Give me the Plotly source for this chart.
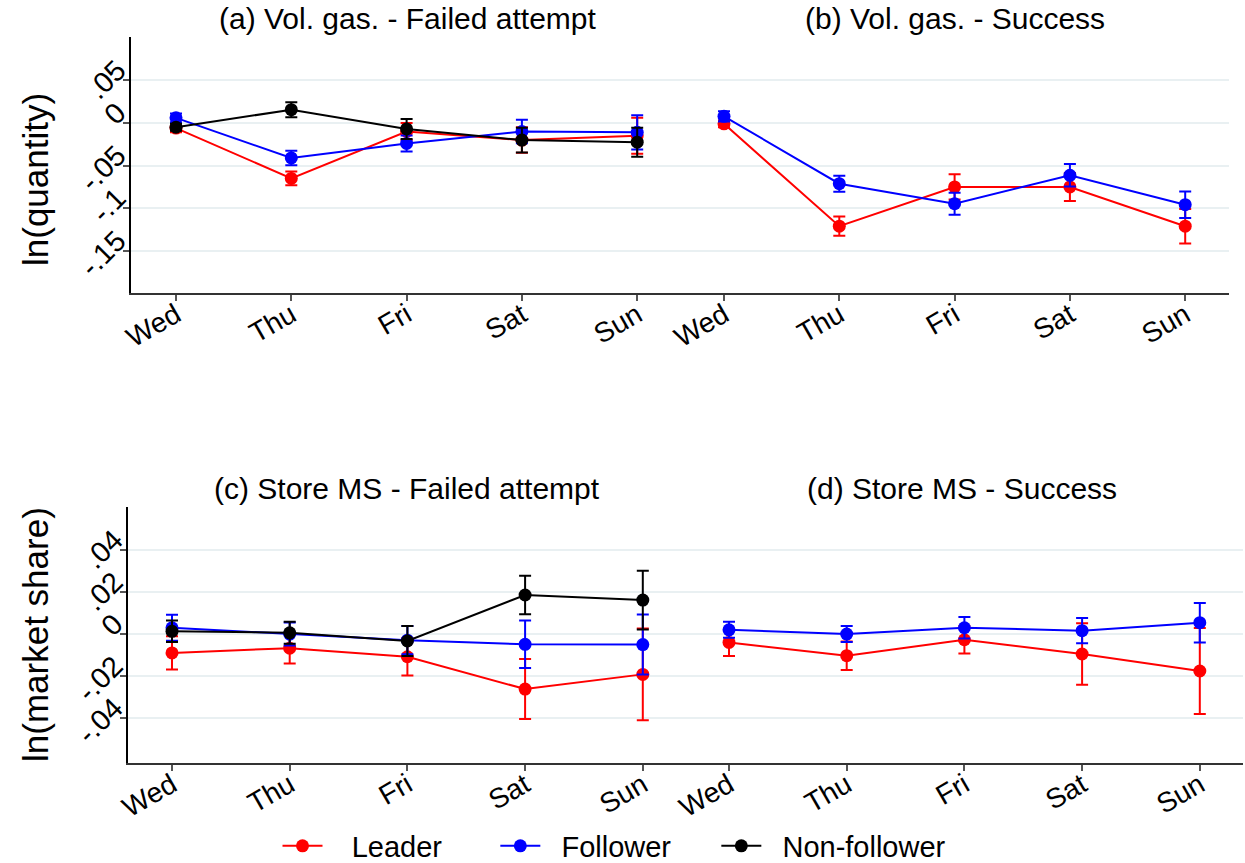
import plotly.graph_objects as go

W, H = 1245, 863

days = ["Wed", "Thu", "Fri", "Sat", "Sun"]
x_pos = [0, 1, 2, 3, 4]

# Panel (a) Vol. gas. - Failed attempt
a_leader = [-0.006, -0.065, -0.010, -0.020, -0.015]
a_leader_err = [0.005, 0.008, 0.010, 0.015, 0.021]
a_follower = [0.006, -0.041, -0.024, -0.010, -0.011]
a_follower_err = [0.005, 0.0086, 0.0094, 0.0137, 0.020]
a_nonfollower = [-0.005, 0.0156, -0.007, -0.020, -0.0225]
a_nonfollower_err = [0.004, 0.0088, 0.0117, 0.0145, 0.017]

# Panel (b) Vol. gas. - Success
b_leader = [-0.001, -0.121, -0.075, -0.075, -0.121]
b_leader_err = [0.004, 0.0113, 0.0148, 0.0164, 0.0203]
b_follower = [0.0078, -0.0712, -0.0946, -0.0613, -0.0958]
b_follower_err = [0.006, 0.0094, 0.0129, 0.0133, 0.0156]

# Panel (c) Store MS - Failed attempt
c_leader = [-0.009, -0.0067, -0.0108, -0.0262, -0.0192]
c_leader_err = [0.0079, 0.0073, 0.0089, 0.0143, 0.0219]
c_follower = [0.003, 0.0, -0.0029, -0.0049, -0.005]
c_follower_err = [0.0062, 0.0055, 0.0067, 0.0113, 0.0143]
c_nonfollower = [0.0013, 0.0006, -0.0033, 0.0186, 0.0162]
c_nonfollower_err = [0.0051, 0.0052, 0.0071, 0.0092, 0.014]

# Panel (d) Store MS - Success
d_leader = [-0.004, -0.0103, -0.0027, -0.0095, -0.0176]
d_leader_err = [0.0065, 0.0068, 0.0065, 0.0146, 0.0205]
d_follower = [0.002, 0.0, 0.003, 0.0016, 0.0054]
d_follower_err = [0.0038, 0.0038, 0.0051, 0.006, 0.0094]

top_ticks = [0.05, 0.0, -0.05, -0.1, -0.15]
top_ticktext = [".05", "0", "-.05", "-.1", "-.15"]
bot_ticks = [0.04, 0.02, 0.0, -0.02, -0.04]
bot_ticktext = [".04", ".02", "0", "-.02", "-.04"]

titles = ["(a) Vol. gas. - Failed attempt", "(b) Vol. gas. - Success",
          "(c) Store MS - Failed attempt", "(d) Store MS - Success"]

series_names = ["Leader", "Follower", "Non-follower"]

RED, BLUE, BLACK = "#ff0000", "#0000ff", "#000000"
FONT = "Liberation Sans, Arial, sans-serif"
GRID = "#e9f0f2"
NB = "\u00a0"
legend_labels = {
    "Leader": NB * 3 + series_names[0] + NB * 6,
    "Follower": NB * 2 + series_names[1] + NB * 5,
    "Non-follower": NB * 2 + series_names[2],
}

fig = go.Figure()

def px_x(p):
    return p / W

def px_y(p):
    return (H - p) / H

def add_series(xa, ya, y, err, color, name, show):
    fig.add_trace(go.Scatter(
        x=x_pos, y=y, xaxis=xa, yaxis=ya, mode="lines+markers",
        name=legend_labels[name],
        legendgroup=name, showlegend=show,
        line=dict(color=color, width=2),
        marker=dict(color=color, size=13, symbol="circle"),
        error_y=dict(type="data", array=err, visible=True, color=color,
                     thickness=2, width=6),
    ))

# panel a
add_series("x", "y", a_leader, a_leader_err, RED, "Leader", True)
add_series("x", "y", a_follower, a_follower_err, BLUE, "Follower", True)
add_series("x", "y", a_nonfollower, a_nonfollower_err, BLACK, "Non-follower", True)
# panel b
add_series("x2", "y2", b_leader, b_leader_err, RED, "Leader", False)
add_series("x2", "y2", b_follower, b_follower_err, BLUE, "Follower", False)
# panel c
add_series("x3", "y3", c_leader, c_leader_err, RED, "Leader", False)
add_series("x3", "y3", c_follower, c_follower_err, BLUE, "Follower", False)
add_series("x3", "y3", c_nonfollower, c_nonfollower_err, BLACK, "Non-follower", False)
# panel d
add_series("x4", "y4", d_leader, d_leader_err, RED, "Leader", False)
add_series("x4", "y4", d_follower, d_follower_err, BLUE, "Follower", False)

# geometry (pixels)
panels = {
    # key: (x_left, x_right, wed_px, spacing, y_top, y_bottom)
    "1": (131, 662, 176, 115.3, 37, 293),
    "2": (662, 1229, 724, 115.3, 37, 293),
    "3": (128, 665, 172, 117.7, 507, 763),
    "4": (665, 1243, 729, 117.7, 507, 763),
}
yranges = {"1": [-0.1993, 0.1008], "2": [-0.1993, 0.1008],
           "3": [-0.0614, 0.0605], "4": [-0.0614, 0.0605]}

layout = dict()
for k, (xl, xr, wed, sp, yt, yb) in panels.items():
    xname = "xaxis" if k == "1" else f"xaxis{k}"
    yname = "yaxis" if k == "1" else f"yaxis{k}"
    yref = "y" if k == "1" else f"y{k}"
    xref = "x" if k == "1" else f"x{k}"
    left_axis = k in ("1", "3")
    top = k in ("1", "2")
    layout[xname] = dict(
        domain=[px_x(xl), px_x(xr)],
        range=[(xl - wed) / sp, (xr - wed) / sp],
        anchor=yref, tickvals=x_pos, ticktext=days, tickangle=-30,
        showgrid=False, zeroline=False, showline=True, linecolor="#333333",
        linewidth=1.5, ticks="outside", ticklen=6, tickcolor="#555555",
        tickwidth=1.5, ticklabelstandoff=-13, automargin=False,
        tickfont=dict(family=FONT, size=28, color="black"),
    )
    layout[yname] = dict(
        domain=[px_y(yb), px_y(yt)], range=yranges[k], anchor=xref,
        tickvals=top_ticks if top else bot_ticks,
        ticktext=top_ticktext if top else bot_ticktext,
        showticklabels=left_axis, tickangle=-45,
        ticks="outside" if left_axis else "", ticklen=6, tickcolor="#555555",
        tickwidth=1.5, automargin=False, ticklabelshift=-14,
        showgrid=True, gridcolor=GRID, gridwidth=2, zeroline=False,
        showline=left_axis, linecolor="#000000", linewidth=1.5,
        tickfont=dict(family=FONT, size=29, color="black"),
    )

annotations = []
title_pos = [(407, 18), (955, 18), (407, 488), (962, 488)]
for t, (cx, cy) in zip(titles, title_pos):
    annotations.append(dict(text=t, x=px_x(cx), y=px_y(cy), xref="paper",
                            yref="paper", showarrow=False, xanchor="center",
                            yanchor="middle",
                            font=dict(family=FONT, size=30, color="black")))
annotations.append(dict(text="ln(quantity)", x=px_x(35), y=px_y(180),
                        xref="paper", yref="paper", showarrow=False,
                        textangle=-90, xanchor="center", yanchor="middle",
                        font=dict(family=FONT, size=35, color="black")))
annotations.append(dict(text="ln(market share)", x=px_x(35), y=px_y(635),
                        xref="paper", yref="paper", showarrow=False,
                        textangle=-90, xanchor="center", yanchor="middle",
                        font=dict(family=FONT, size=35, color="black")))

fig.update_layout(
    width=W, height=H,
    margin=dict(l=0, r=0, t=0, b=0, autoexpand=False),
    paper_bgcolor="white", plot_bgcolor="white",
    showlegend=True,
    legend=dict(orientation="h", x=0.5 - 8 / W, xanchor="center",
                y=px_y(846), yanchor="middle",
                font=dict(family=FONT, size=29, color="black"),
                itemwidth=40, tracegroupgap=0,
                bgcolor="rgba(0,0,0,0)"),
    annotations=annotations,
    **layout,
)

fig.write_html("out.html")
